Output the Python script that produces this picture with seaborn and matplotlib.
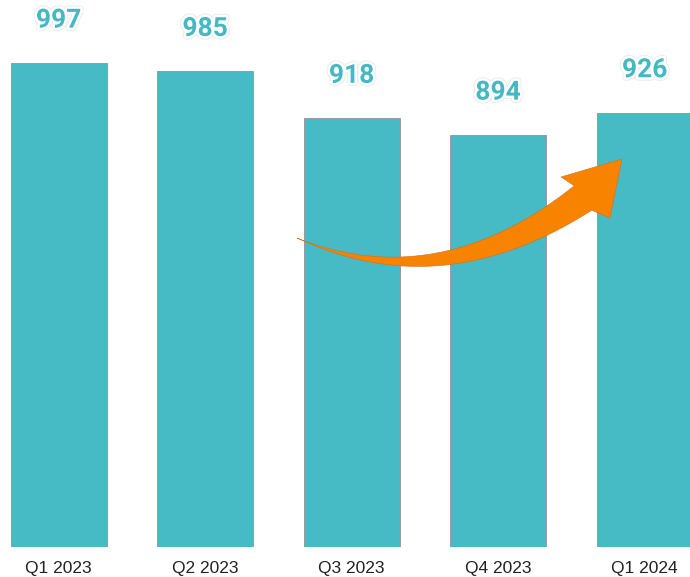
import numpy as np
import matplotlib
matplotlib.use("Agg")
import matplotlib.pyplot as plt
import matplotlib.patheffects as pe
from matplotlib.patches import Polygon
import seaborn as sns

quarters = ["Q1 2023", "Q2 2023", "Q3 2023", "Q4 2023", "Q1 2024"]
values = [997, 985, 918, 894, 926]

BAR = "#46BBC5"
LABEL = "#44B8C3"
ORANGE = "#F88300"

sns.set_style("white")
W, H = 690, 577
fig = plt.figure(figsize=(W / 100, H / 100), dpi=100)
ax = fig.add_axes([0, 30 / H, 1, 547 / H])

sns.barplot(x=quarters, y=values, color=BAR, saturation=1, width=0.655,
            edgecolor="#9a9a9a", linewidth=0.7, ax=ax)
ax.set_xlim(-0.40, 4.31)
ax.set_ylim(305, 1087)
for s in ax.spines.values():
    s.set_visible(False)
ax.set_yticks([])
ax.set_xlabel("")
ax.set_ylabel("")
ax.tick_params(axis="x", length=0, pad=10)
for lab in ax.get_xticklabels():
    lab.set_fontfamily("Liberation Sans")
    lab.set_fontsize(12.5)
    lab.set_color("#222222")

for i, v in enumerate(values):
    ax.annotate(str(v), xy=(i, v), xytext=(0, 30.5), textcoords="offset points",
                ha="center", va="center", fontsize=19, fontweight="bold",
                family="Roboto", color=LABEL,
                path_effects=[pe.withStroke(linewidth=5, foreground="#e8eeee"),
                              pe.withStroke(linewidth=3.5, foreground="white")])

# decorative curved arrow (pixel geometry -> figure fraction)
P0 = np.array([297, 238.0]); P1 = np.array([440, 300.0]); P2 = np.array([583, 198.0])
t = np.linspace(0, 1, 80)
pts = ((1 - t) ** 2)[:, None] * P0 + (2 * t * (1 - t))[:, None] * P1 + (t ** 2)[:, None] * P2
der = (2 * (1 - t))[:, None] * (P1 - P0) + (2 * t)[:, None] * (P2 - P1)
der /= np.linalg.norm(der, axis=1)[:, None]
nrm = np.stack([-der[:, 1], der[:, 0]], axis=1)
w = 15 * t ** 1.2
upper = pts - nrm * w[:, None]
lower = pts + nrm * w[:, None]
tip = np.array([622, 159.0]); barb1 = np.array([561, 177.0]); barb2 = np.array([610, 218.0])
a_end, b_end = upper[-1], lower[-1]
if np.linalg.norm(a_end - barb1) > np.linalg.norm(b_end - barb1):
    upper, lower = lower, upper
poly = np.vstack([upper, barb1[None], tip[None], barb2[None], lower[::-1]])
poly_fig = np.column_stack([poly[:, 0] / W, 1 - poly[:, 1] / H])
fig.patches.append(Polygon(poly_fig, closed=True, transform=fig.transFigure,
                           facecolor=ORANGE, edgecolor="#d07020", linewidth=0.4, zorder=5))

fig.savefig("out.png", dpi=100)
